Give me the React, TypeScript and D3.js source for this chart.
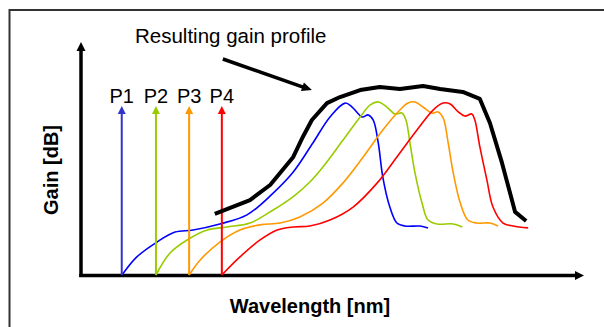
import * as React from "react";
import * as d3 from "d3";

// pump wavelengths (arbitrary units along the wavelength axis) and their labels
const pumpNames = ["P1", "P2", "P3", "P4"];
const pumpWavelengths = [8.1, 14.9, 21.5, 28.0];
const pumpHeight = 72;
const pumpColors = ["#3333cc", "#99cc00", "#ff9900", "#ff0000"];
const curveColors = ["#0000ff", "#99cc00", "#ff9900", "#ff0000"];

// individual gain curves, [wavelength, gain]
const gainP1 = [
  [8.15, 0], [11.1, 7.8], [15.1, 14.2], [18.7, 18.5], [22.3, 19.4], [27.6, 22.0],
  [33.0, 25.9], [38.2, 35.3], [42.2, 44.4], [46.1, 56.9], [49.5, 68.1], [52.5, 74.1],
  [53.9, 72.4], [55.9, 68.1], [57.1, 69.0], [58.1, 66.8], [59.1, 56.9], [60.0, 42.2],
  [61.4, 29.3], [62.8, 22.4], [64.4, 21.1], [67.4, 21.1], [69.0, 20.3]
];
const gainP2 = [
  [14.9, 0], [17.7, 9.5], [21.1, 15.1], [25.1, 19.4], [29.0, 20.7], [33.6, 22.4],
  [38.2, 28.0], [42.2, 33.8], [45.5, 40.1], [48.1, 46.6], [52.1, 58.2], [55.5, 68.1],
  [57.5, 73.3], [59.1, 74.6], [60.8, 72.4], [62.4, 69.4], [63.8, 69.8], [64.6, 66.8],
  [65.4, 56.9], [66.4, 44.0], [67.8, 31.0], [69.0, 23.7], [70.8, 22.0], [74.0, 22.0],
  [75.8, 20.7]
];
const gainP3 = [
  [21.5, 0], [23.7, 6.5], [27.6, 14.2], [31.6, 19.4], [35.6, 21.6], [39.6, 22.4],
  [43.5, 25.0], [48.1, 31.0], [52.1, 39.7], [56.1, 50.9], [60.0, 62.5], [63.4, 71.1],
  [65.0, 74.1], [66.4, 74.6], [68.0, 72.4], [69.8, 69.8], [71.0, 70.3], [72.0, 67.7],
  [73.0, 56.9], [74.0, 44.0], [75.4, 31.0], [76.9, 23.7], [78.7, 22.4], [81.3, 22.4],
  [82.9, 21.1]
];
const gainP4 = [
  [28.0, 0], [31.6, 7.8], [35.6, 15.1], [39.0, 19.4], [42.2, 20.7], [45.5, 21.1],
  [49.5, 23.7], [54.1, 29.3], [58.9, 39.7], [62.8, 50.9], [66.8, 62.5], [70.0, 71.1],
  [72.0, 74.1], [73.4, 73.7], [75.0, 70.3], [76.3, 68.5], [77.7, 69.4], [78.3, 66.8],
  [79.3, 55.2], [80.7, 40.9], [81.9, 29.3], [83.9, 22.4], [85.9, 21.1], [88.9, 20.3]
];
const gainCurves = [gainP1, gainP2, gainP3, gainP4];

// resulting (total) gain profile
const resultingGain = [
  [26.6, 26.3], [33.6, 32.3], [37.6, 38.8], [42.2, 50.9], [44.1, 59.5], [45.9, 66.8],
  [48.9, 74.1], [51.5, 76.7], [55.5, 79.7], [59.4, 81.0], [63.4, 80.2], [68.0, 81.5],
  [71.4, 80.2], [75.9, 78.9], [79.3, 75.9], [81.3, 65.5], [83.7, 48.3], [85.3, 35.3],
  [86.3, 27.2], [88.5, 23.3]
];

// annotation arrow: tail and tip, in data units
const noteTail = [28.2, 93.1];
const noteTip = [45.9, 79.7];

const title = "Resulting gain profile";
const xLabel = "Wavelength [nm]";
const yLabel = "Gain [dB]";

const W = 604;
const H = 327;

export default function App() {
  const node = React.useRef<SVGSVGElement>(null);

  React.useEffect(() => {
    const svg = d3.select(node.current);
    svg.selectAll("*").remove();
    const font = "'Liberation Sans', Arial, sans-serif";

    const x = d3.scaleLinear().domain([0, 100]).range([81, 584]);
    const y = d3.scaleLinear().domain([0, 100]).range([275, 43]);

    // outer frame (top and left only visible)
    svg.append("path")
      .attr("d", `M9.5,${H} V10 H${W}`)
      .attr("fill", "none")
      .attr("stroke", "#333")
      .attr("stroke-width", 2);

    const head = (tx, ty, angle, len, half, color) => {
      // triangle pointing at angle (radians) with tip at tx,ty
      const bx = tx - len * Math.cos(angle);
      const by = ty - len * Math.sin(angle);
      const px = -Math.sin(angle) * half;
      const py = Math.cos(angle) * half;
      svg.append("path")
        .attr("d", `M${tx},${ty} L${bx + px},${by + py} L${bx - px},${by - py} Z`)
        .attr("fill", color);
    };

    // axes
    svg.append("line")
      .attr("x1", x(0)).attr("y1", y(0) + 2)
      .attr("x2", x(0)).attr("y2", y(100) + 6)
      .attr("stroke", "#000").attr("stroke-width", 3.5);
    head(x(0), y(100) - 1, -Math.PI / 2, 9, 4.5, "#000");
    svg.append("line")
      .attr("x1", x(0) - 1.75).attr("y1", y(0) + 0.5)
      .attr("x2", x(100) - 6).attr("y2", y(0) + 0.5)
      .attr("stroke", "#000").attr("stroke-width", 3.5);
    head(x(100), y(0) + 0.5, 0, 9, 4.5, "#000");

    // gain curves
    const smooth = d3.line()
      .curve(d3.curveCatmullRom.alpha(0.5))
      .x((d: any) => x(d[0]))
      .y((d: any) => y(d[1]));

    gainCurves.forEach((c, i) => {
      svg.append("path")
        .datum(c)
        .attr("fill", "none")
        .attr("stroke", curveColors[i])
        .attr("stroke-width", 1.6)
        .attr("d", smooth as any);
    });

    // pumps
    pumpWavelengths.forEach((w, i) => {
      svg.append("line")
        .attr("x1", x(w)).attr("y1", y(0))
        .attr("x2", x(w)).attr("y2", y(pumpHeight) + 5)
        .attr("stroke", pumpColors[i])
        .attr("stroke-width", 2);
      head(x(w), y(pumpHeight) - 2, -Math.PI / 2, 8, 4, pumpColors[i]);
      svg.append("text")
        .attr("x", x(w))
        .attr("y", 103)
        .attr("text-anchor", "middle")
        .attr("font-family", font)
        .attr("font-size", 20)
        .text(pumpNames[i]);
    });

    // resulting profile
    const jagged = d3.line()
      .x((d: any) => x(d[0]))
      .y((d: any) => y(d[1]));
    svg.append("path")
      .datum(resultingGain)
      .attr("fill", "none")
      .attr("stroke", "#000")
      .attr("stroke-width", 4)
      .attr("stroke-linejoin", "round")
      .attr("d", jagged as any);

    // annotation
    const tx = x(noteTip[0]), ty = y(noteTip[1]);
    const sx = x(noteTail[0]), sy = y(noteTail[1]);
    const ang = Math.atan2(ty - sy, tx - sx);
    svg.append("line")
      .attr("x1", sx).attr("y1", sy)
      .attr("x2", tx - 7 * Math.cos(ang)).attr("y2", ty - 7 * Math.sin(ang))
      .attr("stroke", "#000").attr("stroke-width", 3.5);
    head(tx, ty, ang, 10, 4.5, "#000");

    svg.append("text")
      .attr("x", 135)
      .attr("y", 43)
      .attr("font-family", font)
      .attr("font-size", 20.5)
      .text(title);

    svg.append("text")
      .attr("x", 310)
      .attr("y", 313)
      .attr("text-anchor", "middle")
      .attr("font-family", font)
      .attr("font-weight", "bold")
      .attr("font-size", 20)
      .text(xLabel);

    svg.append("text")
      .attr("transform", "translate(58,170) rotate(-90)")
      .attr("text-anchor", "middle")
      .attr("font-family", font)
      .attr("font-weight", "bold")
      .attr("font-size", 20)
      .text(yLabel);
  }, []);

  return (
    <svg
      ref={node}
      width={W}
      height={H}
      style={{ position: "absolute", left: 0, top: 0, background: "#fff" }}
    />
  );
}
